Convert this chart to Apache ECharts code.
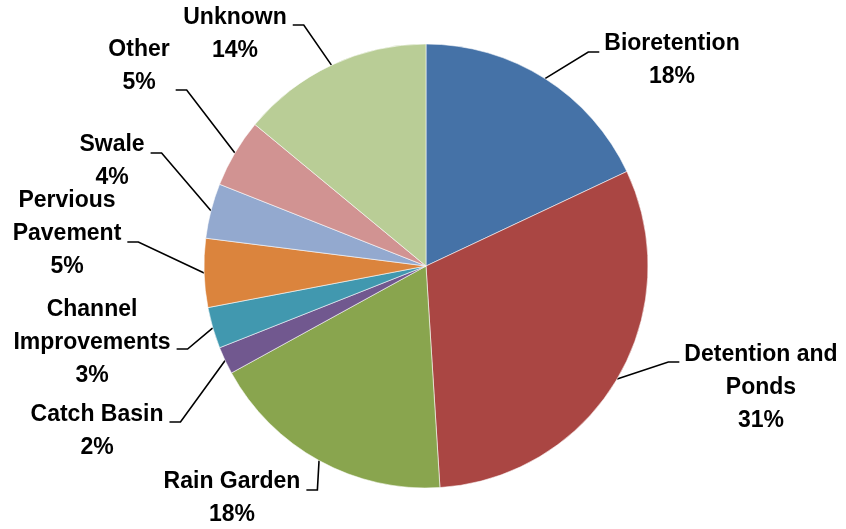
<!DOCTYPE html>
<html>
<head>
<meta charset="utf-8">
<script src="https://cdn.jsdelivr.net/npm/echarts@6/dist/echarts.min.js"></script>
<style>
  html, body { margin: 0; padding: 0; background: #fff; }
  #chart { width: 846px; height: 529px; }
</style>
</head>
<body>
<div id="chart"></div>
<script>
const categories = [
    'Bioretention',
    'Detention and\nPonds',
    'Rain Garden',
    'Catch Basin',
    'Channel\nImprovements',
    'Pervious\nPavement',
    'Swale',
    'Other',
    'Unknown'
];
const shares = [18, 31, 18, 2, 3, 5, 4, 5, 14];
const sliceColors = [
    '#4572A7', '#AA4643', '#89A54E', '#71588F', '#4198AF',
    '#DB843D', '#93A9CF', '#D19392', '#B9CD96'
];

// label placement: [centre x, first line middle y, leader elbow y, side of pie]
const labelSpots = [
    [672, 44, 52, 'right'],
    [761, 355, 362, 'right'],
    [232, 481.5, 490, 'left'],
    [97, 415, 422, 'left'],
    [92, 310, 349, 'left'],
    [67, 201, 242, 'left'],
    [112, 145, 153, 'left'],
    [139, 50, 90, 'left'],
    [235, 18, 25, 'left']
];

const CX = 426, CY = 266, R = 222, LINE_H = 33;
const total = shares.reduce((a, b) => a + b, 0);

function arcMid(i) {
    let before = 0;
    for (let k = 0; k < i; k++) before += shares[k];
    const theta = (before + shares[i] / 2) / total * Math.PI * 2;
    return [CX + R * Math.sin(theta), CY - R * Math.cos(theta)];
}

const chart = echarts.init(document.getElementById('chart'), null, { renderer: 'canvas' });

chart.setOption({
    animation: false,
    series: [{
        type: 'pie',
        center: [CX, CY],
        radius: R,
        startAngle: 90,
        clockwise: true,
        avoidLabelOverlap: false,
        data: categories.map((name, i) => ({
            name: name,
            value: shares[i],
            itemStyle: { color: sliceColors[i] }
        })),
        itemStyle: { borderColor: 'rgba(255,255,255,0.7)', borderWidth: 0.8 },
        label: {
            show: true,
            formatter: '{b}\n{d}%',
            fontFamily: 'Liberation Sans, Arial, sans-serif',
            fontWeight: 'bold',
            fontSize: 23,
            lineHeight: LINE_H,
            color: '#000',
            align: 'center'
        },
        labelLine: {
            show: true,
            lineStyle: { color: '#000', width: 1.6 }
        },
        labelLayout: params => {
            const i = params.dataIndex;
            const [x, firstMid, elbowY, side] = labelSpots[i];
            const w = params.labelRect.width;
            const start = arcMid(i);
            let near, far;
            if (side === 'right') {
                near = x - w / 2 - 5;
                far = near - 11;
            } else {
                near = x + w / 2 + 6;
                far = near + 11;
            }
            return {
                x: x,
                y: firstMid - LINE_H / 2,
                align: 'center',
                verticalAlign: 'top',
                labelLinePoints: [start, [far, elbowY], [near, elbowY]]
            };
        }
    }]
});
</script>
</body>
</html>
